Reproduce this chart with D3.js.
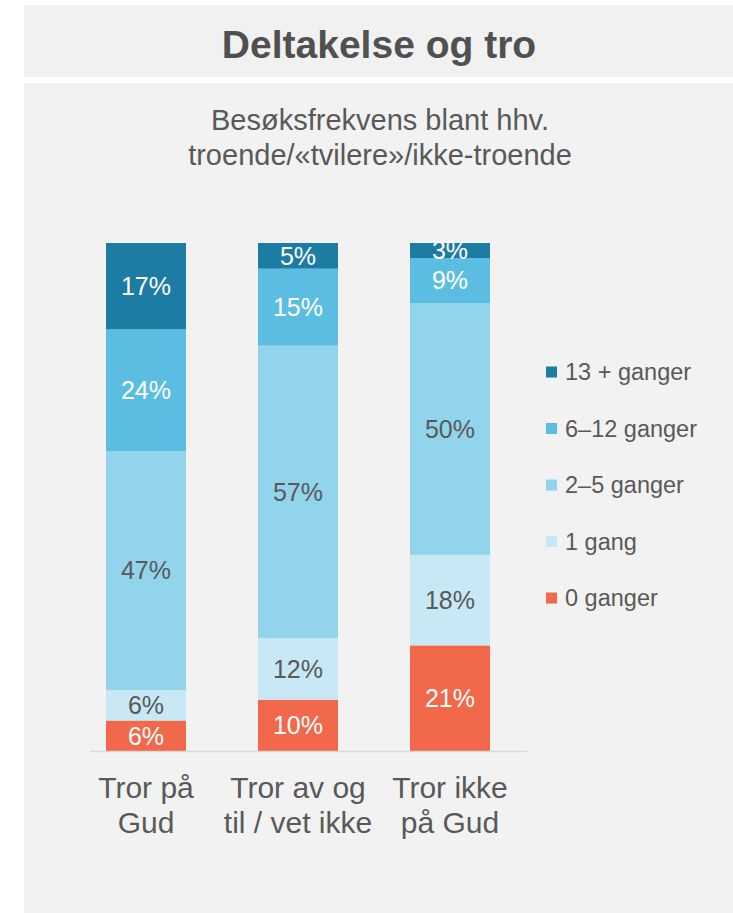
<!DOCTYPE html>
<html>
<head>
<meta charset="utf-8">
<script src="https://cdn.jsdelivr.net/npm/d3@7"></script>
<style>
  html, body { margin: 0; padding: 0; background: #ffffff; }
  svg { display: block; font-family: "Liberation Sans", Arial, sans-serif; }
</style>
</head>
<body>
<svg id="chart" width="733" height="913"></svg>
<script>
const title = "Deltakelse og tro";
const subtitleLines = ["Besøksfrekvens blant hhv.", "troende/«tvilere»/ikke-troende"];
const categories = ["Tror på Gud", "Tror av og til / vet ikke", "Tror ikke på Gud"];
const categoryLines = [["Tror på", "Gud"], ["Tror av og", "til / vet ikke"], ["Tror ikke", "på Gud"]];
const seriesNames = ["0 ganger", "1 gang", "2–5 ganger", "6–12 ganger", "13 + ganger"];
const seriesColors = ["#f2684b", "#c8e8f5", "#92d4eb", "#5bbde1", "#1c7ca4"];
const labelColors = ["#ffffff", "#595959", "#595959", "#ffffff", "#ffffff"];
const v0 = [6, 10, 21];
const v1 = [6, 12, 18];
const v2 = [47, 57, 50];
const v3 = [24, 15, 9];
const v4 = [17, 5, 3];
const seriesValues = [v0, v1, v2, v3, v4];

const svg = d3.select("#chart");

// panels
svg.append("rect").attr("x", 24).attr("y", 5).attr("width", 709).attr("height", 72).attr("fill", "#f1f1f1");
svg.append("rect").attr("x", 24).attr("y", 83).attr("width", 709).attr("height", 830).attr("fill", "#f2f2f2");

svg.append("text").attr("x", 379).attr("y", 58).attr("text-anchor", "middle")
  .attr("font-size", 39).attr("font-weight", "bold").attr("fill", "#505050").text(title);

svg.selectAll("text.sub").data(subtitleLines).join("text").attr("class", "sub")
  .attr("x", 380).attr("y", (d, i) => 130 + i * 35).attr("text-anchor", "middle")
  .attr("font-size", 29).attr("fill", "#595959").text(d => d);

// data table
const rows = categories.map((c, i) => {
  const r = { cat: c };
  seriesNames.forEach((s, j) => r[s] = seriesValues[j][i]);
  r.total = d3.sum(seriesNames, s => r[s]);
  return r;
});
const normRows = rows.map(r => {
  const o = { cat: r.cat };
  seriesNames.forEach(s => o[s] = r[s] / r.total);
  return o;
});
const stacked = d3.stack().keys(seriesNames)(normRows);

const x = d3.scaleBand().domain(categories).range([70, 526])
  .paddingInner(72 / 152).paddingOuter(36 / 152);
const y = d3.scaleLinear().domain([0, 1]).range([751, 243]);

const g = svg.append("g");
stacked.forEach((layer, j) => {
  g.selectAll(null).data(layer).join("rect")
    .attr("x", d => x(d.data.cat)).attr("width", x.bandwidth())
    .attr("y", d => y(d[1])).attr("height", d => y(d[0]) - y(d[1]))
    .attr("fill", seriesColors[j]);
  g.selectAll(null).data(layer).join("text")
    .attr("x", d => x(d.data.cat) + x.bandwidth() / 2)
    .attr("y", d => (y(d[0]) + y(d[1])) / 2)
    .attr("dy", "0.35em").attr("text-anchor", "middle")
    .attr("font-size", 25).attr("fill", labelColors[j])
    .text((d, i) => seriesValues[j][i] + "%");
});

// baseline axis
const axis = d3.axisBottom(x).tickSize(0).tickFormat("");
const ax = svg.append("g").attr("transform", "translate(0,751.5)").call(axis);
ax.select(".domain").attr("d", "M90,0H527").attr("stroke", "#d9d9d9").attr("stroke-width", 1.5);

// category labels
categories.forEach((c, i) => {
  svg.append("text").attr("x", x(c) + x.bandwidth() / 2).attr("text-anchor", "middle")
    .attr("font-size", 30).attr("fill", "#595959")
    .selectAll("tspan").data(categoryLines[i]).join("tspan")
    .attr("x", x(c) + x.bandwidth() / 2).attr("y", (d, k) => 798 + k * 35).text(d => d);
});

// legend
const legendOrder = seriesNames.slice().reverse();
const ly = d3.scalePoint().domain(legendOrder).range([372, 598]);
legendOrder.forEach(s => {
  const j = seriesNames.indexOf(s);
  svg.append("rect").attr("x", 546).attr("y", ly(s) - 5.5).attr("width", 11).attr("height", 11).attr("fill", seriesColors[j]);
  svg.append("text").attr("x", 565).attr("y", ly(s)).attr("dy", "0.35em")
    .attr("font-size", 23.5).attr("fill", "#595959").text(s);
});
</script>
</body>
</html>
